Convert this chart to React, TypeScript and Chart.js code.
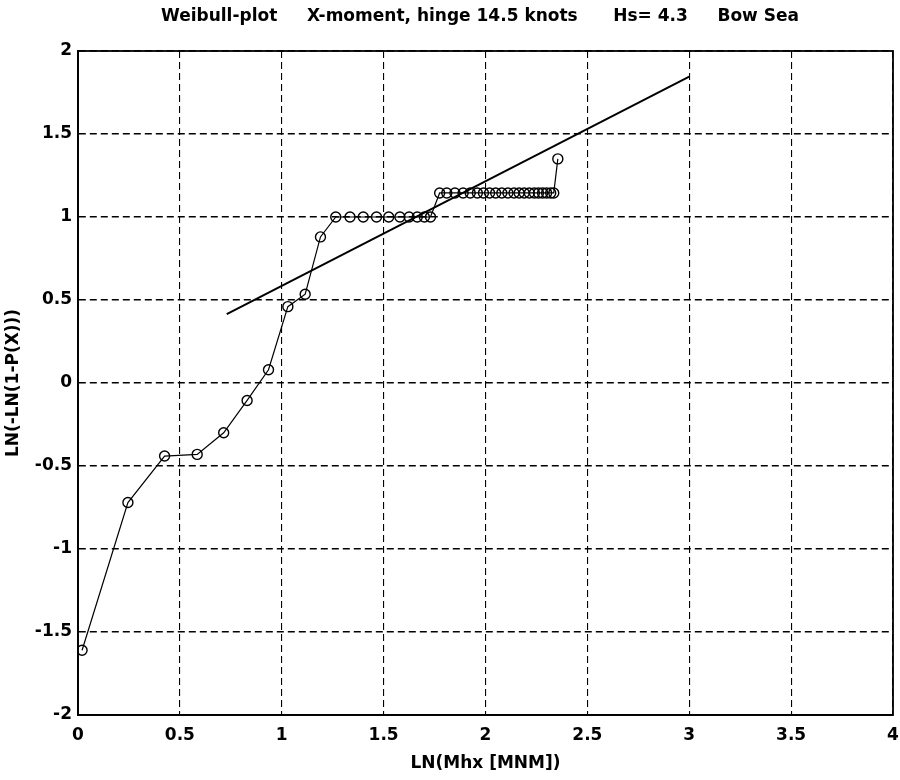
import React, { useEffect, useRef } from "react";
import { Chart, registerables } from "chart.js";

Chart.register(...registerables);

const TITLE = "Weibull-plot     X-moment, hinge 14.5 knots      Hs= 4.3     Bow Sea";
const X_LABEL = "LN(Mhx [MNM])";
const Y_LABEL = "LN(-LN(1-P(X)))";

// observed Weibull points
const obsX = [
  0.02, 0.245, 0.425, 0.585, 0.715, 0.83, 0.935, 1.03, 1.115, 1.19,
  1.265, 1.335, 1.4, 1.465, 1.525, 1.58, 1.625, 1.665, 1.7, 1.73,
  1.775, 1.81, 1.85, 1.89, 1.925, 1.96, 1.99, 2.02, 2.05, 2.08,
  2.11, 2.14, 2.165, 2.19, 2.215, 2.24, 2.26, 2.28, 2.3, 2.32, 2.335,
  2.355,
];
const obsY = [
  -1.61, -0.72, -0.44, -0.43, -0.3, -0.105, 0.08, 0.46, 0.535, 0.88,
  1.0, 1.0, 1.0, 1.0, 1.0, 1.0, 1.0, 1.0, 1.0, 1.0,
  1.145, 1.145, 1.145, 1.145, 1.145, 1.145, 1.145, 1.145, 1.145, 1.145,
  1.145, 1.145, 1.145, 1.145, 1.145, 1.145, 1.145, 1.145, 1.145, 1.145, 1.145,
  1.35,
];

// fitted straight line
const fitX = [0.73, 3.0];
const fitY = [0.415, 1.845];

const X_MIN = 0;
const X_MAX = 4;
const Y_MIN = -2;
const Y_MAX = 2;
const TICK_STEP = 0.5;

const FONT = '"DejaVu Sans", "Liberation Sans", Arial, sans-serif';

const textPlugin = {
  id: "textPlugin",
  afterDraw(chart: any) {
    const { ctx, chartArea } = chart;
    ctx.save();
    ctx.strokeStyle = "#000";
    ctx.lineWidth = 1.8;
    ctx.setLineDash([]);
    ctx.strokeRect(chartArea.left, chartArea.top, chartArea.right - chartArea.left, chartArea.bottom - chartArea.top);
    ctx.fillStyle = "#000";
    ctx.font = `bold 17px ${FONT}`;
    ctx.textBaseline = "middle";
    ctx.textAlign = "left";
    ctx.fillText(TITLE, 161, 17);
    ctx.textAlign = "center";
    ctx.fillText(X_LABEL, (chartArea.left + chartArea.right) / 2, 764);
    ctx.translate(14, (chartArea.top + chartArea.bottom) / 2);
    ctx.rotate(-Math.PI / 2);
    ctx.fillText(Y_LABEL, 0, 0);
    ctx.restore();
  },
};

const fmt = (v: any) => String(Number(v));

export default function App() {
  const canvasRef = useRef<HTMLCanvasElement | null>(null);

  useEffect(() => {
    const canvas = canvasRef.current;
    if (!canvas) return;
    const obsPoints = obsX.map((x, i) => ({ x, y: obsY[i] }));
    const fitPoints = fitX.map((x, i) => ({ x, y: fitY[i] }));
    const chart = new Chart(canvas, {
      type: "scatter",
      data: {
        datasets: [
          {
            label: "data",
            data: obsPoints,
            showLine: true,
            borderColor: "#000",
            borderWidth: 1.2,
            pointRadius: 5,
            pointBorderWidth: 1.4,
            pointBorderColor: "#000",
            pointBackgroundColor: "rgba(0,0,0,0)",
            pointStyle: "circle",
          },
          {
            label: "fit",
            data: fitPoints,
            showLine: true,
            borderColor: "#000",
            borderWidth: 2,
            pointRadius: 0,
          },
        ],
      },
      options: {
        responsive: false,
        animation: false,
        layout: { padding: { top: 51, right: 7, left: 0, bottom: 0 } },
        plugins: {
          legend: { display: false },
          tooltip: { enabled: false },
          title: { display: false },
        },
        scales: {
          x: {
            type: "linear",
            min: X_MIN,
            max: X_MAX,
            ticks: {
              stepSize: TICK_STEP,
              color: "#000",
              padding: 10,
              font: { family: FONT, size: 17, weight: "bold" },
              maxRotation: 0,
              callback: fmt,
            },
            grid: { color: "#000", lineWidth: 1.1, drawTicks: false },
            border: { display: true, color: "#000", width: 1.8, dash: [7, 4] },
            afterFit(scale: any) {
              scale.height = 65;
              scale.paddingLeft = 0;
              scale.paddingRight = 0;
            },
          },
          y: {
            type: "linear",
            min: Y_MIN,
            max: Y_MAX,
            ticks: {
              stepSize: TICK_STEP,
              color: "#000",
              padding: 6,
              font: { family: FONT, size: 17, weight: "bold" },
              callback: fmt,
            },
            grid: { color: "#000", lineWidth: 1.5, drawTicks: false },
            border: { display: true, color: "#000", width: 1.8, dash: [7, 4] },
            afterFit(scale: any) {
              scale.width = 78;
              scale.paddingTop = 0;
              scale.paddingBottom = 0;
            },
          },
        },
      },
      plugins: [textPlugin],
    });
    return () => chart.destroy();
  }, []);

  return (
    <div style={{ position: "absolute", left: 0, top: 0, width: 900, height: 780, background: "#fff" }}>
      <canvas ref={canvasRef} width={900} height={780} style={{ display: "block" }} />
    </div>
  );
}
